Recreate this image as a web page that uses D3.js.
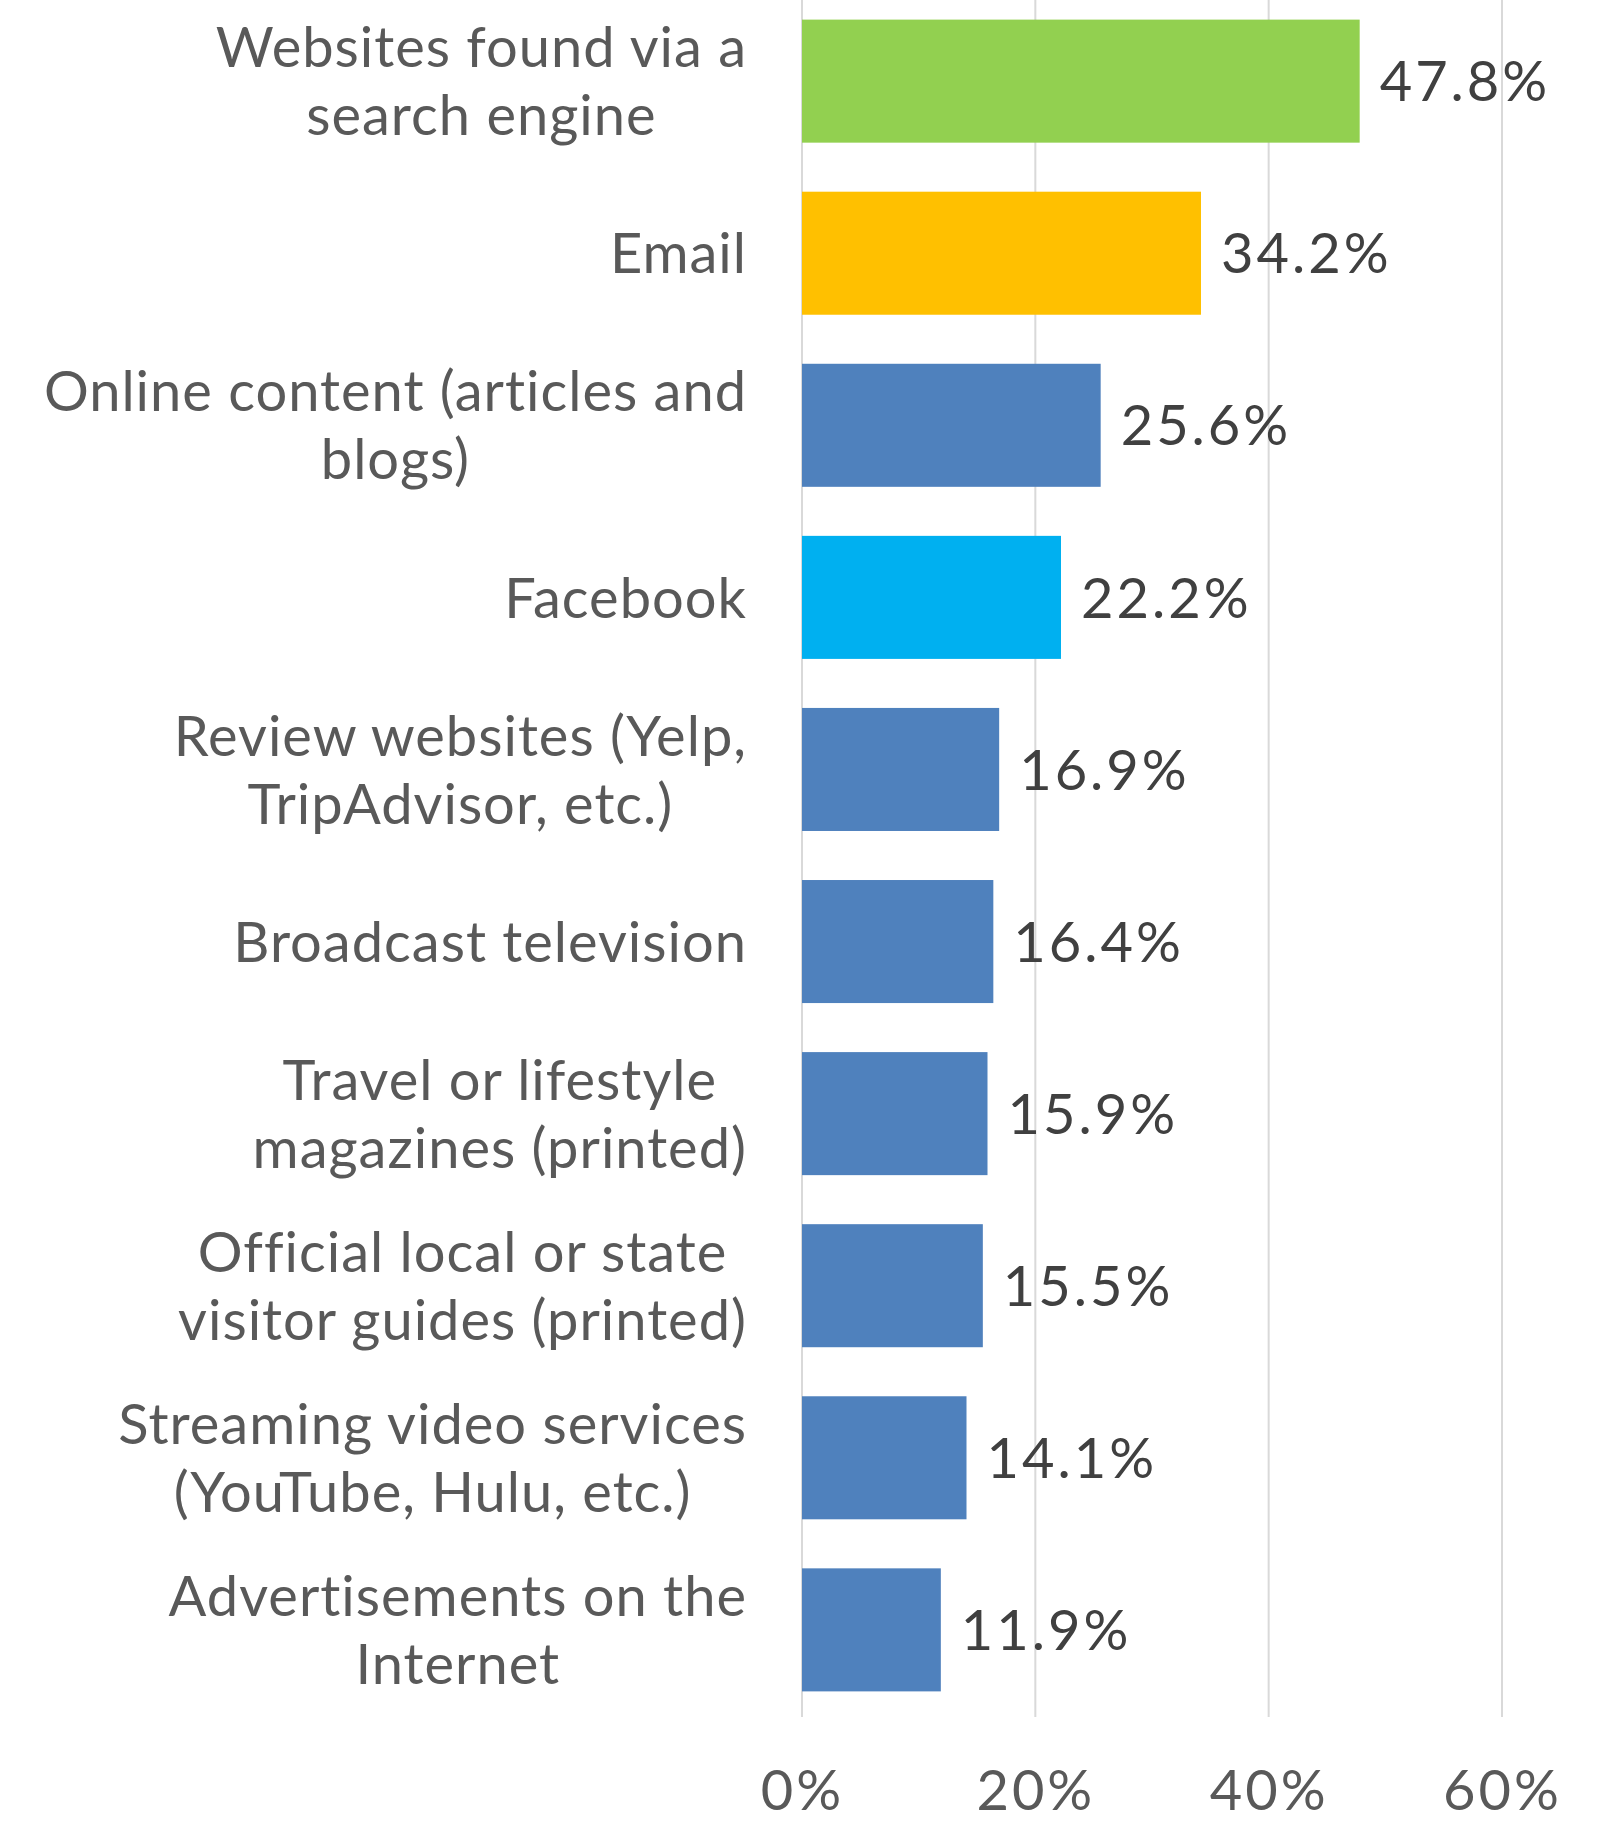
<!DOCTYPE html>
<html>
<head>
<meta charset="utf-8">
<script src="https://cdn.jsdelivr.net/npm/d3@7"></script>
<style>
  html, body { margin: 0; padding: 0; background: #fff; }
  svg { display: block; }
  text { font-family: Lato, "Open Sans", sans-serif; }
</style>
</head>
<body>
<div id="chart"></div>
<script>
// Category labels (line breaks as displayed)
const categories = [
  ["Websites found via a", "search engine"],
  ["Email"],
  ["Online content (articles and", "blogs)"],
  ["Facebook"],
  ["Review websites (Yelp,", "TripAdvisor, etc.)"],
  ["Broadcast television"],
  ["Travel or lifestyle", "magazines (printed)"],
  ["Official local or state", "visitor guides (printed)"],
  ["Streaming video services", "(YouTube, Hulu, etc.)"],
  ["Advertisements on the", "Internet"]
];
const values = [47.8, 34.2, 25.6, 22.2, 16.9, 16.4, 15.9, 15.5, 14.1, 11.9];
const barColors = ["#92D050", "#FFC000", "#4F81BD", "#00B0F0", "#4F81BD",
                   "#4F81BD", "#4F81BD", "#4F81BD", "#4F81BD", "#4F81BD"];
const ticks = [0, 20, 40, 60];

const W = 1608, H = 1822;
const plot = { left: 802, right: 1502, top: 0, bottom: 1717 };
const labelRight = 747;
const fontSize = 56;
const lineGap = 68;

const svg = d3.select("#chart").append("svg")
  .attr("width", W).attr("height", H);

const x = d3.scaleLinear().domain([0, 60]).range([plot.left, plot.right]);
const y = d3.scaleBand()
  .domain(d3.range(categories.length))
  .range([0, 1711])
  .paddingInner(0.285)
  .paddingOuter(0.114);

// vertical gridlines
svg.append("g").selectAll("line")
  .data(ticks)
  .join("line")
  .attr("x1", d => x(d)).attr("x2", d => x(d))
  .attr("y1", plot.top).attr("y2", plot.bottom)
  .attr("stroke", "#D9D9D9").attr("stroke-width", 2);

// bars
svg.append("g").selectAll("rect")
  .data(values)
  .join("rect")
  .attr("x", x(0))
  .attr("y", (d, i) => y(i))
  .attr("width", d => x(d) - x(0))
  .attr("height", y.bandwidth())
  .attr("fill", (d, i) => barColors[i]);

// value labels
svg.append("g").selectAll("text")
  .data(values)
  .join("text")
  .attr("x", d => x(d) + 20)
  .attr("y", (d, i) => y(i) + y.bandwidth() / 2)
  .attr("dy", "0.36em")
  .attr("font-size", fontSize)
  .attr("letter-spacing", 3)
  .attr("fill", "#404040")
  .text(d => d.toFixed(1) + "%");

// category labels: lines centred on each other, block right-aligned
const catG = svg.append("g");
categories.forEach((lines, i) => {
  const g = catG.append("g");
  const cy = y(i) + y.bandwidth() / 2;
  const texts = lines.map((ln, k) => g.append("text")
    .attr("font-size", fontSize)
    .attr("letter-spacing", 1)
    .attr("fill", "#595959")
    .attr("text-anchor", "middle")
    .attr("y", cy + (k - (lines.length - 1) / 2) * lineGap)
    .attr("dy", "0.36em")
    .text(ln));
  const maxW = d3.max(texts, t => t.node().getComputedTextLength());
  texts.forEach(t => t.attr("x", labelRight - maxW / 2));
});

// x axis tick labels
const axis = d3.axisBottom(x).tickValues(ticks).tickFormat(d => d + "%").tickSize(0).tickPadding(0);
const axG = svg.append("g").attr("transform", `translate(0, 1790)`).call(axis);
axG.select(".domain").remove();
axG.selectAll("text")
  .attr("font-size", fontSize)
  .attr("font-family", "Lato, 'Open Sans', sans-serif")
  .attr("letter-spacing", 3)
  .attr("fill", "#595959")
  .attr("dy", "0.36em")
  .attr("y", 0);
</script>
</body>
</html>
